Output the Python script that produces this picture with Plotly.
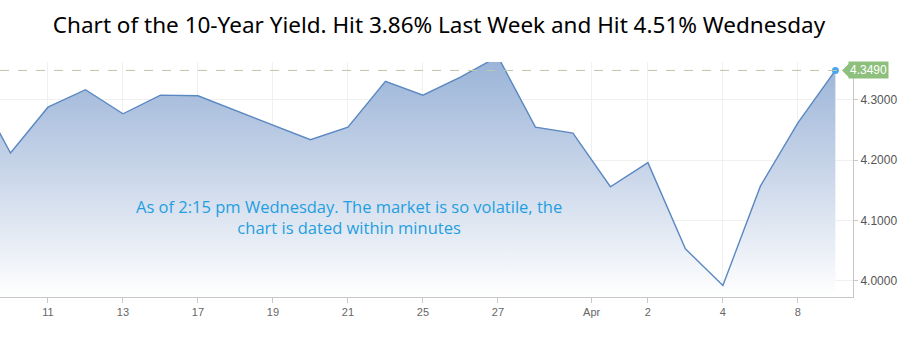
import plotly.graph_objects as go

# Trading days (data), in order
dates = ["Mar 7", "Mar 10", "Mar 11", "Mar 12", "Mar 13", "Mar 14", "Mar 17", "Mar 18",
         "Mar 19", "Mar 20", "Mar 21", "Mar 24", "Mar 25", "Mar 26", "Mar 27", "Mar 28",
         "Mar 31", "Apr 1", "Apr 2", "Apr 3", "Apr 4", "Apr 7", "Apr 8", "Apr 9"]
yields = [4.327, 4.212, 4.288, 4.317, 4.277, 4.308, 4.307, 4.283,
          4.259, 4.234, 4.255, 4.331, 4.308, 4.338, 4.372, 4.255,
          4.245, 4.156, 4.196, 4.053, 3.992, 4.157, 4.262, 4.349]

tick_dates = ["Mar 11", "Mar 13", "Mar 17", "Mar 19", "Mar 21", "Mar 25", "Mar 27",
              "Apr 1", "Apr 2", "Apr 4", "Apr 8"]
tick_labels = ["11", "13", "17", "19", "21", "25", "27", "Apr", "2", "4", "8"]
month_start_labels = ["Apr"]

y_ticks = [4.0, 4.1, 4.2, 4.3]
last_value = 4.349

title_text = "Chart of the 10-Year Yield. Hit 3.86% Last Week and Hit 4.51% Wednesday"
note_text = "As of 2:15 pm Wednesday. The market is so volatile, the<br>chart is dated within minutes"

# trading-day index axis (Mar 11 = 0)
base = dates.index("Mar 11")
xs = [i - base for i in range(len(dates))]
tickvals = []
for d, lab in zip(tick_dates, tick_labels):
    v = dates.index(d) - base
    if lab in month_start_labels:
        v -= 0.5
    tickvals.append(v)

y_lo, y_hi = 3.973, 4.363

fig = go.Figure()
fig.add_trace(go.Scatter(
    x=xs, y=yields, mode="lines",
    line=dict(color="#5b88c2", width=1.4),
    fill="tozeroy",
    fillgradient=dict(type="vertical", start=y_lo, stop=y_hi,
                      colorscale=[[0, "rgba(255,255,255,1)"], [0.5, "#ccd8ea"], [1, "#9bb4d8"]]),
    hoverinfo="skip", showlegend=False,
))
fig.add_trace(go.Scatter(
    x=[xs[-1]], y=[yields[-1]], mode="markers",
    marker=dict(color="#4aa6ee", size=7),
    hoverinfo="skip", showlegend=False, cliponaxis=False,
))

fig.add_hline(y=last_value, line=dict(color="#b9c9a9", width=1, dash="dash"))

# last price tag
fig.add_shape(type="path", xref="paper", yref="y", xsizemode="pixel", ysizemode="pixel",
              xanchor=1, yanchor=last_value,
              path="M -11 0 L -4 7 L -4 -7 Z", fillcolor="#8dc07c", line=dict(width=0),
              layer="above")
fig.add_annotation(x=1, xref="paper", y=last_value, yref="y", xanchor="left", yshift=0,
                   xshift=-5, text="4.3490", showarrow=False,
                   bgcolor="#8dc07c", borderpad=1,
                   font=dict(family="Liberation Sans, Arial", size=12, color="white"))

fig.add_annotation(x=0.409, y=0.34, xref="paper", yref="paper", text=note_text,
                   showarrow=False, align="center",
                   font=dict(family="Open Sans", size=16.5, color="#1f9fe0"))

fig.update_layout(
    width=907, height=361,
    margin=dict(l=0, r=54, t=62, b=64),
    paper_bgcolor="white", plot_bgcolor="white",
    title=dict(text=title_text, x=0.484, xanchor="center", y=0.93, yanchor="middle",
               xref="container",
               font=dict(family="Noto Sans", size=22.5, color="black")),
    xaxis=dict(range=[-1.28, 21.47], tickmode="array", tickvals=tickvals, ticktext=tick_labels,
               showgrid=True, gridcolor="#f0f0f0", zeroline=False,
               showline=True, linecolor="#c8c8c8", linewidth=1,
               ticks="outside", ticklen=5, tickcolor="#c8c8c8",
               tickfont=dict(family="Liberation Sans, Arial", size=11, color="#666")),
    yaxis=dict(range=[y_lo, y_hi], side="right", tickmode="array", tickvals=y_ticks,
               ticktext=[f"{v:.4f}" for v in y_ticks],
               showgrid=True, gridcolor="#f0f0f0", zeroline=False,
               showline=True, linecolor="#c8c8c8", linewidth=1,
               ticks="outside", ticklen=4, tickcolor="#c8c8c8",
               tickfont=dict(family="Liberation Sans, Arial", size=12, color="#555")),
)

fig.write_html("out.html", config={"displayModeBar": False},
               post_script="document.body.style.margin='0';")
